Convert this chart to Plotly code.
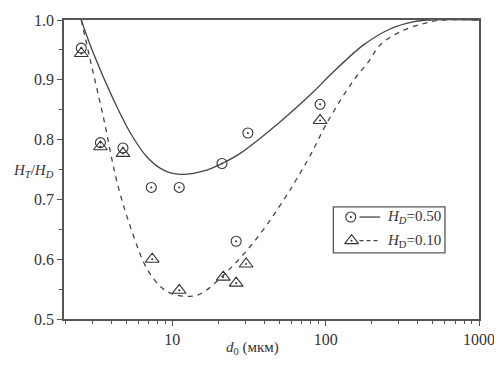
import plotly.graph_objects as go

# Data
circ_x = [2.55, 3.4, 4.77, 7.3, 11.1, 21.1, 26.1, 31.1, 92]
circ_y = [0.953, 0.795, 0.786, 0.720, 0.720, 0.760, 0.630, 0.811, 0.859]
tri_x = [2.55, 3.4, 4.77, 7.4, 11.1, 21.5, 26.1, 30.3, 92]
tri_y = [0.944, 0.788, 0.777, 0.600, 0.548, 0.570, 0.560, 0.592, 0.832]

solid_x = [2.55, 3.0, 4.15, 5.33, 6.84, 8.78, 11.3, 16.8, 21.1, 27.7, 50.6, 83.3, 107, 176, 263, 371, 478, 1000]
solid_y = [1.0, 0.950, 0.866, 0.811, 0.771, 0.749, 0.742, 0.749, 0.760, 0.777, 0.830, 0.880, 0.908, 0.958, 0.985, 0.997, 1.0, 1.0]

dash_x = [2.55, 2.92, 3.55, 4.4, 5.57, 6.8, 8.4, 10, 12.5, 15, 22.7, 35.6, 54.5, 65, 80, 103, 152, 190, 226, 305, 434, 583, 1000]
dash_y = [1.0, 0.933, 0.838, 0.725, 0.640, 0.585, 0.554, 0.542, 0.538, 0.541, 0.579, 0.635, 0.703, 0.735, 0.775, 0.830, 0.899, 0.930, 0.958, 0.980, 0.994, 1.0, 1.0]

x_ticks = [10, 100, 1000]
x_minor = [2, 3, 4, 5, 6, 7, 8, 9, 20, 30, 40, 50, 60, 70, 80, 90, 200, 300, 400, 500, 600, 700, 800, 900]
y_ticks = [0.5, 0.6, 0.7, 0.8, 0.9, 1.0]

FONT = "Liberation Serif"
INK = "#333333"
AX = "#555555"

fig = go.Figure()
fig.add_trace(go.Scatter(x=solid_x, y=solid_y, mode="lines",
                         line=dict(color="#444444", width=1.3, shape="spline", smoothing=1.0),
                         showlegend=False))
fig.add_trace(go.Scatter(x=dash_x, y=dash_y, mode="lines",
                         line=dict(color="#444444", width=1.3, dash="5px,5px", shape="spline", smoothing=1.0),
                         showlegend=False))
fig.add_trace(go.Scatter(x=circ_x, y=circ_y, mode="markers",
                         marker=dict(symbol="circle-open-dot", size=10, color=INK, line=dict(width=1.1, color=INK)),
                         showlegend=False))
fig.add_trace(go.Scatter(x=tri_x, y=tri_y, mode="markers",
                         marker=dict(symbol="triangle-up-open-dot", size=12, color=INK, line=dict(width=1.1, color=INK)),
                         showlegend=False))

# custom legend glyphs on an overlay axis (paper-like coordinates)
fig.add_trace(go.Scatter(x=[0.691], y=[0.341], xaxis="x2", yaxis="y2", mode="markers",
                         marker=dict(symbol="circle-open-dot", size=10, color=INK, line=dict(width=1.1, color=INK)),
                         showlegend=False, hoverinfo="skip"))
fig.add_trace(go.Scatter(x=[0.712, 0.762], y=[0.341, 0.341], xaxis="x2", yaxis="y2", mode="lines",
                         line=dict(color="#444444", width=1.3), showlegend=False, hoverinfo="skip"))
fig.add_trace(go.Scatter(x=[0.693], y=[0.262], xaxis="x2", yaxis="y2", mode="markers",
                         marker=dict(symbol="triangle-up-open-dot", size=12, color=INK, line=dict(width=1.1, color=INK)),
                         showlegend=False, hoverinfo="skip"))
fig.add_trace(go.Scatter(x=[0.712, 0.762], y=[0.262, 0.262], xaxis="x2", yaxis="y2", mode="lines",
                         line=dict(color="#444444", width=1.3, dash="4px,3px"), showlegend=False, hoverinfo="skip"))

fig.update_layout(
    width=494, height=357,
    margin=dict(l=55.5, r=23, t=12, b=46),
    paper_bgcolor="white", plot_bgcolor="white",
    font=dict(family=FONT, size=15, color=INK),
    xaxis=dict(type="log", range=[0.294, 3.0], tickvals=x_ticks, ticktext=[str(v) for v in x_ticks],
               ticks="outside", ticklen=5, tickwidth=1.2, tickcolor=AX,
               showline=True, linecolor=AX, linewidth=1.5, mirror=True,
               showgrid=False, zeroline=False, automargin=False,
               minor=dict(tickvals=x_minor, ticks="outside", ticklen=3, tickwidth=1, tickcolor=AX, showgrid=False),
               tickfont=dict(family=FONT, size=16, color=INK)),
    yaxis=dict(range=[0.5, 1.0], tickvals=y_ticks, tickformat=".1f",
               ticks="outside", ticklen=5, tickwidth=1.2, tickcolor=AX,
               showline=True, linecolor=AX, linewidth=1.5, mirror=True,
               showgrid=False, zeroline=False, automargin=False,
               minor=dict(dtick=0.05, ticks="outside", ticklen=3, tickwidth=1, tickcolor=AX, showgrid=False),
               tickfont=dict(family=FONT, size=16, color=INK)),
    xaxis2=dict(domain=[0, 1], range=[0, 1], anchor="y2", overlaying="x", visible=False, fixedrange=True),
    yaxis2=dict(domain=[0, 1], range=[0, 1], anchor="x2", overlaying="y", visible=False, fixedrange=True),
    shapes=[dict(type="rect", xref="paper", yref="paper", x0=0.649, x1=0.918, y0=0.221, y1=0.375,
                 line=dict(color=AX, width=1.3), fillcolor="rgba(0,0,0,0)", layer="below")],
    annotations=[
        dict(xref="paper", yref="paper", x=0.774, y=0.341, xanchor="left", yanchor="middle", showarrow=False,
             text="<i>H</i><sub><i>D</i></sub>=0.50", font=dict(family=FONT, size=15, color=INK)),
        dict(xref="paper", yref="paper", x=0.774, y=0.262, xanchor="left", yanchor="middle", showarrow=False,
             text="<i>H</i><sub>D</sub>=0.10", font=dict(family=FONT, size=15, color=INK)),
        dict(xref="paper", yref="paper", x=-0.073, y=0.495, xanchor="center", yanchor="middle", showarrow=False,
             text="<i>H</i><sub><i>T</i></sub>/<i>H</i><sub><i>D</i></sub>", font=dict(family=FONT, size=15, color=INK)),
        dict(xref="paper", yref="paper", x=0.454, y=-0.097, xanchor="center", yanchor="middle", showarrow=False,
             text="<i>d</i><sub>0</sub> (мкм)", font=dict(family=FONT, size=15, color=INK)),
    ],
)

fig.write_html("out.html")
